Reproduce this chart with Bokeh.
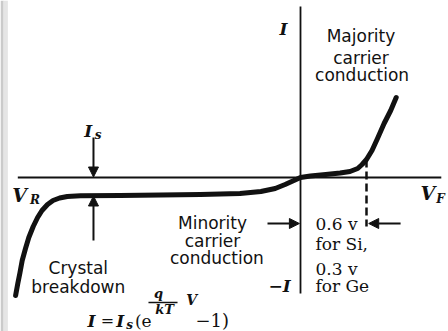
from bokeh.plotting import figure
from bokeh.models import Range1d, Arrow, NormalHead, BoxAnnotation
from bokeh.core.properties import value
from bokeh.embed import file_html
from bokeh.resources import INLINE

# Diode characteristic (schematic): bias voltage in volts, current in arbitrary units
v_bias = [-2.59, -2.57, -2.55, -2.53, -2.50, -2.47, -2.43, -2.39, -2.35, -2.30,
          -2.25, -2.19, -2.12, -2.0, -1.64, -1.27, -0.91, -0.55, -0.36, -0.23,
          -0.14, -0.06, 0.0, 0.09, 0.23, 0.36, 0.45, 0.52, 0.56, 0.60, 0.65,
          0.70, 0.76, 0.82, 0.87]
i_current = [-11.8, -10.6, -9.5, -8.3, -7.1, -6.0, -4.9, -4.0, -3.3, -2.7,
             -2.3, -2.05, -1.9, -1.82, -1.8, -1.76, -1.7, -1.6, -1.4, -1.1,
             -0.7, -0.3, 0.0, 0.15, 0.3, 0.45, 0.6, 0.9, 1.3, 1.8, 2.7,
             3.9, 5.4, 6.7, 8.0]

i_sat = 1.8          # reverse saturation current level
v_threshold = 0.6    # forward knee (Si)

INK = "#111111"
SANS = value("DejaVu Sans")
SERIF = value("DejaVu Serif")

p = figure(width=448, height=331, output_backend="svg", toolbar_location=None,
           x_range=Range1d(-2.7273, 1.3455), y_range=Range1d(-15.4, 17.7),
           min_border=0, outline_line_color=None, background_fill_color="white")
p.axis.visible = False
p.grid.visible = False

# scanned page edge
p.add_layout(BoxAnnotation(left=-2.7273, right=-2.70, fill_color="#bdbdbd", fill_alpha=0.8, line_color=None))
p.add_layout(BoxAnnotation(left=-2.70, right=-2.66, fill_color="#dadada", fill_alpha=0.7, line_color=None))

# axes
p.line([-2.57, 1.28], [0, 0], line_color=INK, line_width=1.8)
p.line([0, 0], [17.1, -11.6], line_color=INK, line_width=1.8)

# characteristic curve
p.line(v_bias, i_current, line_color=INK, line_width=5, line_join="round", line_cap="round")

# threshold marker
p.line([v_threshold, v_threshold], [1.8, -4.9], line_color=INK, line_width=2.5, line_dash="8 4")

head = dict(size=10, fill_color=INK, line_color=INK)
arrows = [
    (-1.882, 4.0, -1.882, 0.05),
    (-1.882, -6.3, -1.882, -i_sat - 0.05),
    (-0.30, -4.6, -0.01, -4.6),
    (0.91, -4.6, v_threshold + 0.02, -4.6),
]
for xs, ys, xe, ye in arrows:
    p.add_layout(Arrow(end=NormalHead(**head), x_start=xs, y_start=ys, x_end=xe, y_end=ye,
                       line_color=INK, line_width=2))

def txt(xs, ys, texts, font, size, style="normal", align="center"):
    p.text(x=xs, y=ys, text=texts, text_font=font, text_font_size=f"{size}px",
           text_font_style=style, text_align=align, text_baseline="middle", text_color=INK)

# region labels
txt([0.55, 0.55, 0.56], [14.2, 12.0, 10.3], ["Majority", "carrier", "conduction"], SANS, 17)
txt([-0.80, -0.80, -0.76], [-4.5, -6.3, -8.0], ["Minority", "carrier", "conduction"], SANS, 17)
txt([-2.02, -2.02], [-9.0, -10.9], ["Crystal", "breakdown"], SANS, 17)
txt([0.136] * 4, [-4.6, -6.6, -9.1, -10.8], ["0.6 v", "for Si,", "0.3 v", "for Ge"], SERIF, 17, align="left")

# axis symbols
txt([-0.155], [14.9], ["I"], SERIF, 17, "bold italic")
txt([-0.09], [-10.8], ["\u2212I"], SERIF, 17, "bold italic", align="right")
txt([-2.62], [-1.7], ["V"], SERIF, 19, "bold italic", align="left")
txt([-2.46], [-2.2], ["R"], SERIF, 12, "bold italic", align="left")
txt([1.09], [-1.5], ["V"], SERIF, 19, "bold italic", align="left")
txt([1.235], [-2.1], ["F"], SERIF, 12, "bold italic", align="left")
txt([-1.93], [4.7], ["I"], SERIF, 17, "bold italic")
txt([-1.87], [4.3], ["s"], SERIF, 12, "bold italic", align="left")

# diode equation
txt([-1.936], [-14.3], ["I"], SERIF, 17, "bold italic", align="left")
txt([-1.815], [-14.3], ["="], SERIF, 16, align="left")
txt([-1.675], [-14.3], ["I"], SERIF, 17, "bold italic", align="left")
txt([-1.585], [-14.7], ["s"], SERIF, 12, "bold italic", align="left")
txt([-1.505], [-14.3], ["(e"], SERIF, 17, align="left")
txt([-1.29], [-11.6], ["q"], SERIF, 13, "bold italic")
p.line([-1.382, -1.118], [-12.5, -12.5], line_color=INK, line_width=1.5)
txt([-1.235], [-13.2], ["kT"], SERIF, 13, "bold italic")
txt([-0.99], [-12.2], ["V"], SERIF, 14, "bold italic")
txt([-0.955], [-14.3], ["\u22121)"], SERIF, 18, align="left")

open("out.html", "w").write(file_html(p, INLINE))
